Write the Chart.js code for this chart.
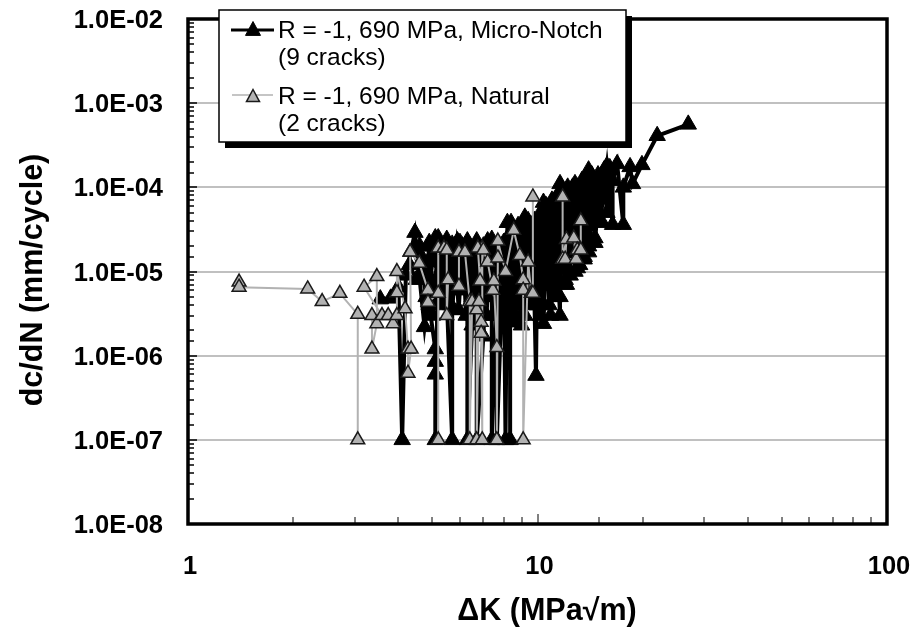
<!DOCTYPE html>
<html><head><meta charset="utf-8">
<style>html,body{margin:0;padding:0;background:#fff}#w{position:relative;width:910px;height:629px}</style>
<script src="https://cdn.jsdelivr.net/npm/chart.js@4"></script>
</head><body><div id="w"><canvas id="c" width="910" height="629"></canvas></div>
<script>
const seriesNames = ["R = -1, 690 MPa, Micro-Notch", "R = -1, 690 MPa, Natural"];
const seriesNotes = ["(9 cracks)", "(2 cracks)"];
const xTitle = "ΔK (MPa√m)";
const yTitle = "dc/dN (mm/cycle)";

// null marks the break between separate crack records
const microNotchK = [
3.55,3.8,4.0,4.1,4.2,4.46,4.75,5.1,null,
4.3,4.5,4.7,4.9,5.1,5.1,5.1,5.1,5.2,5.3,5.45,5.7,5.7,5.9,6.1,null,
4.6,4.8,4.9,5.0,5.3,5.5,5.7,6.0,6.3,6.3,6.5,6.7,6.7,7.0,7.2,7.2,7.4,7.4,7.7,7.65,8.0,8.1,8.2,8.35,8.35,null,
4.4,4.7,5.0,5.3,5.6,5.9,6.2,6.5,6.8,7.1,7.4,7.7,8.0,8.3,8.6,null,
6.0,6.2,6.4,6.6,6.8,7.0,7.2,7.4,7.6,7.8,8.0,8.2,8.4,8.6,8.8,9.0,null,
8.4,8.6,8.8,9.0,9.2,9.5,9.7,9.9,10.0,10.2,10.4,10.4,10.7,10.9,11.2,11.6,11.6,12.0,12.3,12.1,12.8,13.0,13.4,13.6,14.0,14.0,14.6,14.6,15.1,15.1,15.8,16.4,16.4,16.9,17.6,17.6,18.4,18.7,19.9,22.0,27.0,null,
8.5,9.0,9.5,10.0,10.5,11.0,11.5,12.0,12.5,13.0,13.5,14.0,14.5,15.0,null,
9.0,9.3,9.6,9.9,10.2,10.5,10.8,11.1,11.4,11.7,12.0,12.3,12.6,12.9,13.2,null,
5.3,5.6,5.9,6.1,6.4,6.6,6.9,7.1,7.3,7.5,7.8,8.1,8.4,null,
8.6,8.8,9.0,9.2,9.4,9.6,9.8,10.0,10.2,10.4,10.6,10.8,11.0,11.2,11.4,11.6,11.8,12.0,12.2,12.4,12.6,12.8,13.0,13.2,13.4,13.6,13.8,14.0,14.3,14.6,14.9,15.2,15.5,15.8,16.1,null,
4.9,5.05,5.2,5.35,5.5,5.65,5.8,5.95,6.1,6.25,6.4,6.55,6.7,6.85,7.0,7.15,7.3,7.45,7.6,7.75,7.9,8.05,8.2,8.35,8.5,8.65,8.8,8.95
];
const microNotchRate = [
4.7e-6,4.8e-6,6.5e-6,1e-7,9e-6,2.9e-5,2.2e-6,2.5e-5,null,
1.2e-5,8e-6,1.4e-5,4e-6,1.2e-6,8.5e-7,6e-7,1e-7,2.5e-5,1e-5,1.3e-5,1e-7,3.5e-6,2.3e-5,1.3e-5,null,
2e-5,5e-6,2.2e-5,3e-6,2e-5,2.4e-5,2.1e-5,2.2e-5,2.3e-5,1e-7,2.3e-6,2.3e-5,1e-7,1.7e-6,2.3e-5,5e-6,2.4e-5,1e-7,1e-5,1e-7,2.2e-5,1e-7,3.8e-5,4e-6,1e-7,null,
1.8e-5,9e-6,1.6e-5,7e-6,1.5e-5,6e-6,1.4e-5,5e-6,1.6e-5,6e-6,1.4e-5,5e-6,1.5e-5,6e-6,1.8e-5,null,
9e-6,1.9e-5,8e-6,1.7e-5,4e-6,1.5e-5,8e-6,1.6e-5,5e-6,1.7e-5,4e-6,1.6e-5,6e-6,2.2e-5,9e-6,2.4e-5,null,
3.8e-5,2.5e-6,3e-5,2.3e-6,4.4e-5,4e-6,3.5e-5,5.8e-7,3.5e-5,3e-6,6.6e-5,2.4e-6,5e-5,3e-6,7e-5,3e-6,1.1e-4,7e-6,9e-5,7e-6,1.1e-4,1.1e-5,1.1e-4,1.4e-5,1.6e-4,1.7e-5,1.2e-4,2.2e-5,1.3e-4,3.8e-5,1.8e-4,3.6e-5,1.2e-4,1.9e-4,3.6e-5,1e-4,1.75e-4,1.1e-4,1.85e-4,4.1e-4,5.6e-4,null,
1.2e-5,2e-5,1e-5,3e-5,1.5e-5,4e-5,2e-5,5e-5,2.5e-5,6e-5,3e-5,8e-5,4e-5,9e-5,null,
8e-6,2.5e-5,6e-6,3e-5,8e-6,3.5e-5,1e-5,4.5e-5,1.2e-5,5e-5,1.5e-5,6e-5,2e-5,7e-5,3e-5,null,
1.8e-5,1e-5,1.9e-5,1.1e-5,2e-5,9e-6,1.8e-5,1.2e-5,1.9e-5,8e-6,2e-5,1.1e-5,1.7e-5,null,
3e-5,4e-6,3.5e-5,3e-6,4e-5,5e-6,4e-5,4e-6,5e-5,4e-6,6e-5,4e-6,7e-5,5e-6,8e-5,5e-6,9e-5,8e-6,1e-4,9e-6,1e-4,1e-5,1e-4,1.2e-5,1.2e-4,1.5e-5,1.3e-4,2e-5,1.4e-4,2.5e-5,1.4e-4,4e-5,1.6e-4,5e-5,1.7e-4,null,
2e-5,5e-6,2e-5,4e-6,2e-5,4e-6,2e-5,3.5e-6,2e-5,3e-6,2e-5,3e-6,2e-5,3.5e-6,2e-5,3e-6,2e-5,3e-6,2e-5,3e-6,2e-5,3e-6,2.5e-5,3e-6,2.8e-5,3e-6,3.5e-5,3e-6
];

const naturalK = [
1.4,1.4,2.2,2.42,2.72,3.06,3.06,null,
3.36,3.36,3.47,3.47,3.19,3.59,3.74,3.86,3.96,3.96,3.96,4.18,4.26,4.26,4.35,4.32,4.32,4.59,4.86,4.86,5.2,5.2,5.2,5.4,5.5,5.5,5.55,5.96,5.96,6.2,6.4,6.4,6.5,6.7,6.7,6.8,6.9,6.9,6.95,6.95,6.75,6.85,7.0,7.2,7.45,7.5,7.65,7.65,7.7,7.7,8.1,8.55,8.9,9.1,9.1,9.1,9.4,9.6,9.7,9.7,null,
11.8,11.8,12.1,12.0,12.9,12.7,13.0,13.3,13.3
];
const naturalRate = [
7.5e-6,6.5e-6,6.2e-6,4.4e-6,5.5e-6,3.1e-6,1e-7,null,
3e-6,1.2e-6,2.4e-6,8.7e-6,6.5e-6,3e-6,3e-6,2.4e-6,3e-6,5.6e-6,1e-5,3.6e-6,1.2e-6,6.2e-7,1.2e-6,1.7e-5,1.7e-5,1.25e-5,6e-6,4.3e-6,5.5e-6,1e-7,1.9e-5,1.9e-5,1.8e-5,3e-6,8e-6,6.7e-6,1.7e-5,1.7e-5,4.4e-6,1e-7,4.4e-6,3.5e-6,1e-7,4.4e-6,2.5e-6,1.85e-6,1e-7,1.9e-5,1.9e-5,7.7e-6,1.8e-5,1.3e-5,6e-6,7.7e-6,1.25e-6,1e-7,1.45e-5,2.3e-5,1e-5,3.1e-5,1.55e-5,8e-6,6e-6,1e-7,1.3e-5,5.5e-6,5.5e-6,7.7e-5,null,
7.7e-5,1.4e-5,2.4e-5,1.4e-5,1.4e-5,2.5e-5,1.8e-5,1.8e-5,4e-5
];

const toPts = (xs, ys) => xs.map((x, i) => ({x: x === null ? NaN : x, y: ys[i]}));
const FONT = '"Liberation Sans", Arial, sans-serif';

function triangle(ctx, cx, cy, r, fill, stroke, lw) {
  ctx.beginPath();
  ctx.moveTo(cx, cy - r);
  ctx.lineTo(cx + r, cy + r * 0.85);
  ctx.lineTo(cx - r, cy + r * 0.85);
  ctx.closePath();
  ctx.fillStyle = fill; ctx.fill();
  ctx.strokeStyle = stroke; ctx.lineWidth = lw; ctx.stroke();
}

const framePlugin = {
  id: 'frame',
  afterDatasetsDraw(chart) {
    const {ctx, chartArea: a, scales} = chart;
    ctx.save();
    ctx.strokeStyle = '#000';
    ctx.lineWidth = 1.5;
    scales.y.ticks.forEach(t => {
      const p = Math.round(scales.y.getPixelForValue(t.value));
      const isMajor = Math.abs(Math.log10(t.value) - Math.round(Math.log10(t.value))) < 1e-6;
      ctx.beginPath(); ctx.moveTo(a.left, p); ctx.lineTo(a.left + (isMajor ? 9 : 6), p); ctx.stroke();
    });
    ctx.lineWidth = 1;
    scales.x.ticks.forEach(t => {
      const p = Math.round(scales.x.getPixelForValue(t.value));
      const isMajor = Math.abs(Math.log10(t.value) - Math.round(Math.log10(t.value))) < 1e-6;
      ctx.beginPath(); ctx.moveTo(p, a.bottom); ctx.lineTo(p, a.bottom - (isMajor ? 10 : 7)); ctx.stroke();
    });
    ctx.lineWidth = 3.5;
    ctx.strokeRect(a.left, a.top, a.right - a.left, a.bottom - a.top);
    ctx.restore();
  },
  afterDraw(chart) {
    const {ctx} = chart;
    ctx.save();
    // axis titles
    ctx.fillStyle = '#000';
    ctx.font = 'bold 30.5px ' + FONT;
    ctx.textAlign = 'center';
    ctx.textBaseline = 'alphabetic';
    ctx.fillText(xTitle, 547, 620);
    ctx.save();
    ctx.translate(42, 280);
    ctx.rotate(-Math.PI / 2);
    ctx.fillText(yTitle, 0, 0);
    ctx.restore();
    // legend box with drop shadow
    ctx.fillStyle = '#000';
    ctx.fillRect(225, 16, 407, 132);
    ctx.fillStyle = '#fff';
    ctx.fillRect(219, 10, 407, 132);
    ctx.strokeStyle = '#000'; ctx.lineWidth = 1.5;
    ctx.strokeRect(219, 10, 407, 132);
    // samples
    ctx.strokeStyle = '#000'; ctx.lineWidth = 3;
    ctx.beginPath(); ctx.moveTo(231, 30); ctx.lineTo(274, 30); ctx.stroke();
    triangle(ctx, 253, 29, 7.5, '#000', '#000', 1);
    ctx.strokeStyle = '#b2b2b2'; ctx.lineWidth = 1.5;
    ctx.beginPath(); ctx.moveTo(232, 95); ctx.lineTo(273, 95); ctx.stroke();
    triangle(ctx, 253, 96, 6.5, '#b2b2b2', '#1a1a1a', 1.5);
    ctx.fillStyle = '#000';
    ctx.font = '24.5px ' + FONT;
    ctx.textAlign = 'left';
    ctx.fillText(seriesNames[0], 278, 38);
    ctx.fillText(seriesNotes[0], 278, 65);
    ctx.fillText(seriesNames[1], 278, 104);
    ctx.fillText(seriesNotes[1], 278, 131);
    ctx.restore();
  }
};

new Chart(document.getElementById('c'), {
  type: 'scatter',
  data: { datasets: [
    { label: seriesNames[1], data: toPts(naturalK, naturalRate), showLine: true, spanGaps: false, order: 0,
      borderColor: '#b2b2b2', borderWidth: 2, tension: 0,
      pointStyle: 'triangle', pointRadius: 8, pointBackgroundColor: '#b2b2b2', pointBorderColor: '#1a1a1a', pointBorderWidth: 1.5 },
    { label: seriesNames[0], data: toPts(microNotchK, microNotchRate), showLine: true, spanGaps: false, order: 1,
      borderColor: '#000', borderWidth: 4, tension: 0,
      pointStyle: 'triangle', pointRadius: 9.5, pointBackgroundColor: '#000', pointBorderColor: '#000', pointBorderWidth: 1 }
  ]},
  options: {
    responsive: false, animation: false, devicePixelRatio: 1,
    layout: { padding: { left: 0, right: 23, top: 19, bottom: 0 } },
    plugins: { legend: { display: false }, tooltip: { enabled: false } },
    scales: {
      x: { type: 'logarithmic', min: 1, max: 100,
        grid: { display: false, drawTicks: false },
        border: { display: false },
        afterFit(s) { s.height = 105; s.paddingLeft = 0; s.paddingRight = 0; },
        ticks: { autoSkip: false, maxRotation: 0, color: '#000', padding: 28, labelOffset: 2,
          font: { family: FONT, size: 25.5, weight: 'bold' },
          callback: v => (v === 1 || v === 10 || v === 100) ? String(v) : '' },
        title: { display: false } },
      y: { type: 'logarithmic', min: 1e-8, max: 1e-2,
        grid: { drawTicks: false, lineWidth: 2,
          color: c => { const l = Math.log10(c.tick.value); return Math.abs(l - Math.round(l)) < 1e-6 ? '#c0c0c0' : 'rgba(0,0,0,0)'; } },
        border: { display: false },
        afterFit(s) { s.width = 188; s.paddingTop = 0; s.paddingBottom = 0; },
        ticks: { autoSkip: false, color: '#000', padding: 25, labelOffset: 2,
          font: { family: FONT, size: 25.5, weight: 'bold' },
          callback: v => { const l = Math.log10(v); return Math.abs(l - Math.round(l)) < 1e-6 ? '1.0E-0' + Math.abs(Math.round(l)) : ''; } },
        title: { display: false } }
    }
  },
  plugins: [framePlugin]
});
</script></body></html>
